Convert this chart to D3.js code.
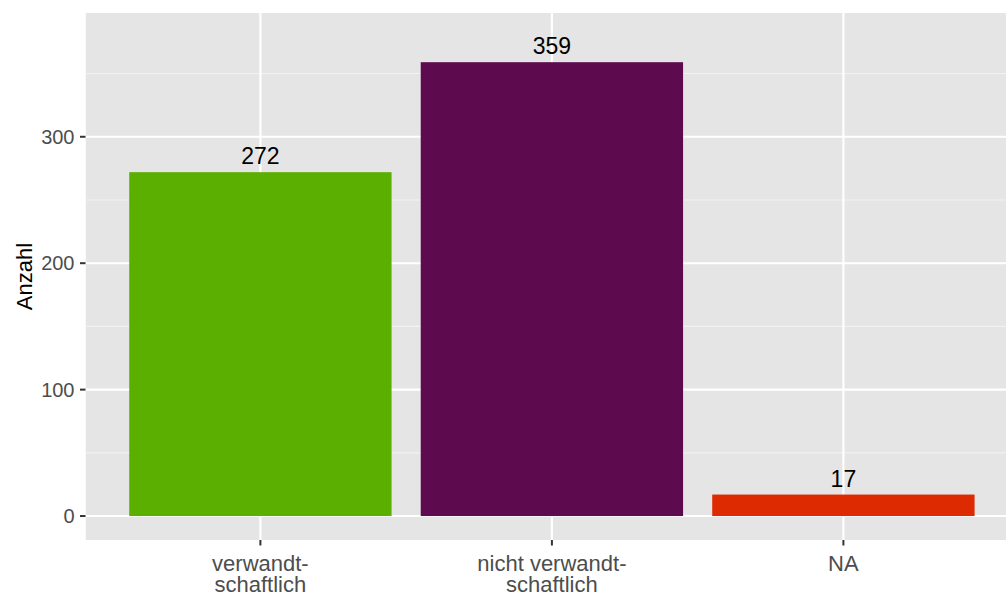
<!DOCTYPE html>
<html><head><meta charset="utf-8">
<script src="https://cdn.jsdelivr.net/npm/d3@7"></script>
<style>body{margin:0;background:#fff}svg{display:block;font-family:"Liberation Sans",Arial,Helvetica,sans-serif}</style>
</head><body><svg id="c" width="1006" height="593"></svg>
<script>
const categories = [["verwandt-","schaftlich"],["nicht verwandt-","schaftlich"],["NA"]];
const values = [272, 359, 17];
const colors = ["#5BAF00","#5E0A4E","#DD2A00"];
const yTicks = [0,100,200,300];
const yMinor = [50,150,250,350];
const yTitle = "Anzahl";

const svg = d3.select("#c");
const pl = 85.5, pt = 13, pb = 540;
const step = 291.5;
const pr = pl + step*3.2;
const keys = categories.map((d,i)=>i);
const x = d3.scaleBand().domain(keys).range([pl+0.1*step, pl+0.1*step+3*step]).paddingInner(0.1).paddingOuter(0.05);
const xc = i => x(i)+x.bandwidth()/2;
const y = d3.scaleLinear().domain([-18.95, 397.9]).range([pb, pt]);

svg.append("defs").append("clipPath").attr("id","pc").append("rect")
  .attr("x",pl).attr("y",pt).attr("width",pr-pl).attr("height",pb-pt);
const g = svg.append("g").attr("clip-path","url(#pc)");
g.append("rect").attr("x",pl).attr("y",pt).attr("width",pr-pl).attr("height",pb-pt).attr("fill","#E5E5E5");
g.selectAll(".mn").data(yMinor).join("line").attr("x1",pl).attr("x2",pr)
  .attr("y1",d=>y(d)).attr("y2",d=>y(d)).attr("stroke","#F2F2F2").attr("stroke-width",1.1);
g.selectAll(".mj").data(yTicks).join("line").attr("x1",pl).attr("x2",pr)
  .attr("y1",d=>y(d)).attr("y2",d=>y(d)).attr("stroke","#fff").attr("stroke-width",2.1);
g.selectAll(".vx").data(keys).join("line").attr("y1",pt).attr("y2",pb)
  .attr("x1",d=>xc(d)).attr("x2",d=>xc(d)).attr("stroke","#fff").attr("stroke-width",2.1);
g.selectAll(".bar").data(keys).join("rect")
  .attr("x",d=>x(d)).attr("width",x.bandwidth())
  .attr("y",d=>y(values[d])).attr("height",d=>y(0)-y(values[d]))
  .attr("fill",d=>colors[d]);
g.selectAll(".lb").data(keys).join("text")
  .attr("x",d=>xc(d)).attr("y",d=>y(values[d])-8)
  .attr("text-anchor","middle").attr("font-size",23).attr("fill","#000")
  .text(d=>values[d]);

// y axis
svg.selectAll(".yt").data(yTicks).join("line").attr("x1",pl-5.5).attr("x2",pl)
  .attr("y1",d=>y(d)).attr("y2",d=>y(d)).attr("stroke","#333").attr("stroke-width",2);
svg.selectAll(".yl").data(yTicks).join("text").attr("x",pl-11).attr("y",d=>y(d))
  .attr("dy","0.36em").attr("text-anchor","end").attr("font-size",20).attr("fill","#4D4D4D").text(d=>d);
svg.append("text").attr("transform",`translate(32,${(pt+pb)/2}) rotate(-90)`)
  .attr("text-anchor","middle").attr("font-size",22).attr("fill","#000").text(yTitle);

// x axis
svg.selectAll(".xt").data(keys).join("line").attr("x1",d=>xc(d)).attr("x2",d=>xc(d))
  .attr("y1",pb).attr("y2",pb+5.5).attr("stroke","#333").attr("stroke-width",2);
const xl = svg.selectAll(".xl").data(keys).join("text").attr("text-anchor","middle")
  .attr("font-size",22).attr("fill","#4D4D4D");
xl.each(function(d){
  const t = d3.select(this);
  categories[d].forEach((s,j)=>{
    t.append("tspan").attr("x",xc(d)).attr("y",pb+31+j*20.5).text(s);
  });
});
</script></body></html>
